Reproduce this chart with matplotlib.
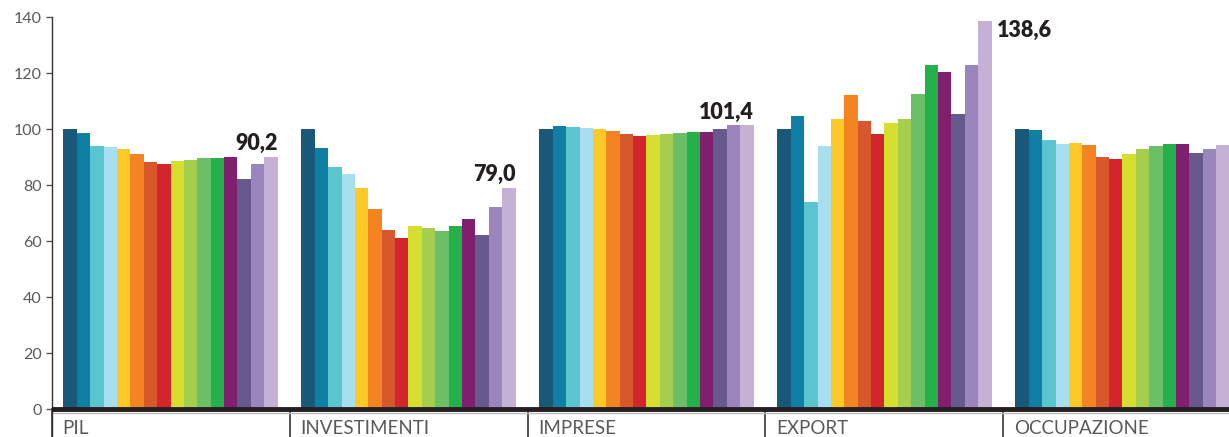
import matplotlib
matplotlib.use("Agg")
import matplotlib.pyplot as plt

categories = ["PIL", "INVESTIMENTI", "IMPRESE", "EXPORT", "OCCUPAZIONE"]
pil = [100.0, 98.6, 93.9, 93.6, 92.8, 91.1, 88.2, 87.5, 88.5, 88.9, 89.6, 89.6, 90.0, 82.1, 87.5, 90.2]
investimenti = [100.0, 93.2, 86.4, 83.9, 79.2, 71.4, 64.2, 61.3, 65.3, 64.6, 63.8, 65.6, 67.8, 62.1, 72.4, 79.0]
imprese = [100.0, 101.1, 100.7, 100.4, 100.0, 99.3, 98.2, 97.5, 97.9, 98.2, 98.6, 98.9, 98.9, 100.0, 101.4, 101.4]
export = [100.0, 104.7, 73.9, 93.9, 103.6, 112.2, 102.9, 98.2, 102.1, 103.6, 112.5, 122.9, 120.4, 105.4, 122.9, 138.6]
occupazione = [100.0, 99.6, 96.1, 94.6, 95.0, 94.3, 90.0, 89.3, 91.1, 92.8, 93.9, 94.6, 94.6, 91.4, 92.8, 94.4]
series = [pil, investimenti, imprese, export, occupazione]
end_labels = ["90,2", "79,0", "101,4", "138,6", "94,4"]
yticks = [0, 20, 40, 60, 80, 100, 120, 140]

colors = ["#185878", "#0f7fa5", "#5bc5cf", "#a8dff0", "#fdc926", "#f38421",
          "#d6582b", "#d2252c", "#d6df30", "#a5cd4e", "#6bbf67", "#24b04b",
          "#7f1f6e", "#67588e", "#9a86bd", "#c6b1d6"]

W, H = 1229, 437
fig = plt.figure(figsize=(W / 100, H / 100), dpi=100)
left_px, top_px = 51.5, 17.3
ax = fig.add_axes([left_px / W, 0, 1 - left_px / W, 1 - top_px / H])

bw = 0.9 / 16
off = 0.05
for g, vals in enumerate(series):
    xs = [g + off + i * bw for i in range(len(vals))]
    ax.bar(xs, vals, width=bw, align="edge", color=colors, linewidth=0, zorder=2)
    lx = xs[-1] + bw
    if g == 3:
        ax.annotate(end_labels[g], (lx, vals[-1]), xytext=(4, 1), textcoords="offset points",
                    ha="left", va="top", fontsize=15.5, fontweight="heavy",
                    family="Lato", color="#231f20")
    else:
        ax.annotate(end_labels[g], (lx, vals[-1]), xytext=(0, 2), textcoords="offset points",
                    ha="right", va="bottom", fontsize=15.5, fontweight="heavy",
                    family="Lato", color="#231f20")
    ax.plot([g, g], [0, -10], color="#444444", lw=1.3, zorder=1, clip_on=False)
    ax.text(g + 0.045, -3.9, categories[g], ha="left", va="top", fontsize=13.5,
            family="Lato", fontweight="normal", color="#5a5a5a")

ax.axhline(0, color="#231f20", lw=3.5, zorder=3)
ax.axhline(-1.3, color="#bbbbbb", lw=1, zorder=1)

ax.set_xlim(0, (W - left_px) / 238)
ax.set_ylim(-9.9, 140)
ax.set_yticks(yticks)
ax.set_yticklabels([str(t) for t in yticks], family="Lato", fontweight="normal",
                   fontsize=11.5, color="#5a5a5a")
ax.tick_params(axis="y", length=4, width=1, color="#555555", pad=3)
ax.tick_params(axis="x", bottom=False, labelbottom=False)
for s in ["top", "right", "bottom"]:
    ax.spines[s].set_visible(False)
ax.spines["left"].set_color("#333333")
ax.spines["left"].set_linewidth(1)

fig.savefig("out.png", dpi=100)
